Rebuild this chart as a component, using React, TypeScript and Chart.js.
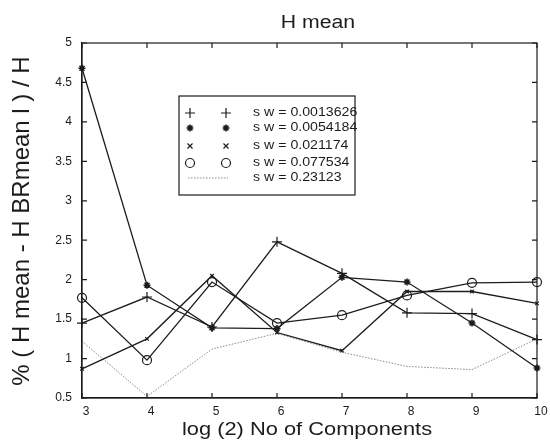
import React, { useEffect, useRef } from "react";
import { Chart, registerables } from "chart.js";

Chart.register(...registerables);

// ---- data ----
const components = [3, 4, 5, 6, 7, 8, 9, 10];
const sw0013626 = [1.45, 1.78, 1.4, 2.48, 2.08, 1.58, 1.57, 1.24];
const sw0054184 = [4.68, 1.93, 1.39, 1.38, 2.03, 1.97, 1.45, 0.88];
const sw021174 = [0.87, 1.25, 2.05, 1.33, 1.1, 1.85, 1.85, 1.7];
const sw077534 = [1.77, 0.98, 1.97, 1.45, 1.55, 1.8, 1.96, 1.97];
const sw23123 = [1.22, 0.52, 1.12, 1.32, 1.08, 0.9, 0.86, 1.25];
const seriesLabels = [
  "s w = 0.0013626",
  "s w = 0.0054184",
  "s w = 0.021174",
  "s w = 0.077534",
  "s w = 0.23123",
];
const titleText = "H mean";
const xTitleText = "log (2) No of Components";
const yTitleText = "% ( H mean - H BRmean l ) / H";

const FONT = '"Liberation Sans", Arial, Helvetica, sans-serif';
const INK = "#1c1c1c";

const toPts = (vals: number[]) => vals.map((v, i) => ({ x: components[i], y: v }));

function drawMarker(ctx: CanvasRenderingContext2D, style: string, x: number, y: number, r: number) {
  ctx.beginPath();
  if (style === "cross") {
    ctx.moveTo(x - r, y); ctx.lineTo(x + r, y);
    ctx.moveTo(x, y - r); ctx.lineTo(x, y + r);
  } else if (style === "star") {
    ctx.moveTo(x - r, y); ctx.lineTo(x + r, y);
    ctx.moveTo(x, y - r); ctx.lineTo(x, y + r);
    const d = r * 0.7;
    ctx.moveTo(x - d, y - d); ctx.lineTo(x + d, y + d);
    ctx.moveTo(x - d, y + d); ctx.lineTo(x + d, y - d);
  } else if (style === "crossRot") {
    ctx.moveTo(x - r, y - r); ctx.lineTo(x + r, y + r);
    ctx.moveTo(x - r, y + r); ctx.lineTo(x + r, y - r);
  } else if (style === "circle") {
    ctx.arc(x, y, r, 0, Math.PI * 2);
  }
  ctx.stroke();
}

function stretchedText(
  ctx: CanvasRenderingContext2D,
  text: string,
  x: number,
  y: number,
  size: number,
  sx: number,
  rotated = false,
  align: CanvasTextAlign = "center"
) {
  ctx.save();
  ctx.translate(x, y);
  if (rotated) {
    ctx.rotate(-Math.PI / 2);
    ctx.scale(1, sx);
  } else {
    ctx.scale(sx, 1);
  }
  ctx.font = `${size}px ${FONT}`;
  ctx.fillStyle = INK;
  ctx.textAlign = align;
  ctx.textBaseline = "middle";
  ctx.fillText(text, 0, 0);
  ctx.restore();
}

const decorPlugin = {
  id: "matlabDecor",
  afterDraw(chart: any) {
    const { ctx, chartArea: ca } = chart;
    const xs = chart.scales.x;
    const ys = chart.scales.y;
    ctx.save();
    // frame
    ctx.strokeStyle = INK;
    ctx.lineWidth = 1.2;
    ctx.strokeRect(ca.left, ca.top, ca.right - ca.left, ca.bottom - ca.top);
    // inward ticks on all sides
    ctx.beginPath();
    const tl = 5;
    xs.ticks.forEach((t: any) => {
      const px = xs.getPixelForValue(t.value);
      ctx.moveTo(px, ca.bottom); ctx.lineTo(px, ca.bottom - tl);
      ctx.moveTo(px, ca.top); ctx.lineTo(px, ca.top + tl);
    });
    ys.ticks.forEach((t: any) => {
      const py = ys.getPixelForValue(t.value);
      ctx.moveTo(ca.left, py); ctx.lineTo(ca.left + tl, py);
      ctx.moveTo(ca.right, py); ctx.lineTo(ca.right - tl, py);
    });
    ctx.stroke();

    // titles
    stretchedText(ctx, titleText, 318, 23, 18, 1.18);
    stretchedText(ctx, xTitleText, 307, 430, 19, 1.15);
    stretchedText(ctx, yTitleText, 22, 221, 24, 1.0, true);

    // legend
    const lx = ca.left + 97;
    const ly = ca.top + 53;
    const lw = 176;
    const lh = 99;
    ctx.fillStyle = "#ffffff";
    ctx.fillRect(lx, ly, lw, lh);
    ctx.strokeStyle = INK;
    ctx.lineWidth = 1.2;
    ctx.strokeRect(lx, ly, lw, lh);
    const rowY = [17, 32, 50, 67, 82];
    chart.data.datasets.forEach((ds: any, i: number) => {
      const y = ly + rowY[i];
      const m1 = lx + 11;
      const m2 = lx + 47;
      ctx.strokeStyle = ds.borderColor;
      if (ds.pointRadius > 0) {
        ctx.lineWidth = ds.pointBorderWidth || 1.2;
        drawMarker(ctx, ds.pointStyle, m1, y, ds.pointRadius);
        drawMarker(ctx, ds.pointStyle, m2, y, ds.pointRadius);
      } else {
        ctx.save();
        ctx.lineWidth = ds.borderWidth;
        ctx.setLineDash(ds.borderDash || []);
        ctx.beginPath();
        ctx.moveTo(m1 - 2, y);
        ctx.lineTo(m2 + 2, y);
        ctx.stroke();
        ctx.restore();
      }
      stretchedText(ctx, ds.label, lx + 74, y, 12, 1.18, false, "left");
    });
    ctx.restore();
  },
};

const bgPlugin = {
  id: "whiteBg",
  beforeDraw(chart: any) {
    const { ctx, width, height } = chart;
    ctx.save();
    ctx.fillStyle = "#ffffff";
    ctx.fillRect(0, 0, width, height);
    ctx.restore();
  },
};

export default function App() {
  const ref = useRef<HTMLCanvasElement | null>(null);

  useEffect(() => {
    if (!ref.current) return;
    const common = {
      borderColor: INK,
      backgroundColor: "rgba(0,0,0,0)",
      pointBackgroundColor: "rgba(0,0,0,0)",
      pointBorderColor: INK,
      borderWidth: 1.3,
      pointBorderWidth: 1.2,
      tension: 0,
      clip: false as any,
    };
    const chart = new Chart(ref.current, {
      type: "line",
      data: {
        datasets: [
          { ...common, label: seriesLabels[0], data: toPts(sw0013626), pointStyle: "cross", pointRadius: 5 },
          { ...common, label: seriesLabels[1], data: toPts(sw0054184), pointStyle: "star", pointRadius: 3.5, pointBorderWidth: 1.6 },
          { ...common, label: seriesLabels[2], data: toPts(sw021174), pointStyle: "crossRot", pointRadius: 2.5 },
          { ...common, label: seriesLabels[3], data: toPts(sw077534), pointStyle: "circle", pointRadius: 4.5 },
          {
            ...common,
            label: seriesLabels[4],
            data: toPts(sw23123),
            pointRadius: 0,
            borderColor: "#8a8a8a",
            borderWidth: 1,
            borderDash: [1.5, 1.5],
          },
        ] as any,
      },
      options: {
        animation: false,
        responsive: false,
        events: [],
        layout: { padding: { top: 43, right: 13, left: 0, bottom: 0 } },
        plugins: {
          legend: { display: false },
          title: { display: false },
          tooltip: { enabled: false },
        },
        scales: {
          x: {
            type: "linear",
            min: 3,
            max: 10,
            ticks: {
              stepSize: 1,
              color: INK,
              font: { family: FONT, size: 12 },
              padding: 6,
              labelOffset: 4,
              maxRotation: 0,
              callback: (v: any) => String(Number(v)),
            },
            grid: { display: true, drawOnChartArea: false, drawTicks: false, color: INK },
            border: { display: true, color: INK, width: 1.2 },
            afterFit: (s: any) => {
              s.height = 46;
            },
          },
          y: {
            type: "linear",
            min: 0.5,
            max: 5,
            ticks: {
              stepSize: 0.5,
              color: INK,
              font: { family: FONT, size: 12 },
              padding: 10,
              callback: (v: any) => String(Number(v)),
            },
            grid: { display: true, drawOnChartArea: false, drawTicks: false, color: INK },
            border: { display: true, color: INK, width: 1.2 },
            afterFit: (s: any) => {
              s.width = 82;
            },
          },
        },
      },
      plugins: [bgPlugin, decorPlugin],
    });
    return () => chart.destroy();
  }, []);

  return (
    <div style={{ position: "absolute", left: 0, top: 0, width: 550, height: 444 }}>
      <canvas ref={ref} width={550} height={444} style={{ width: 550, height: 444 }} />
    </div>
  );
}
